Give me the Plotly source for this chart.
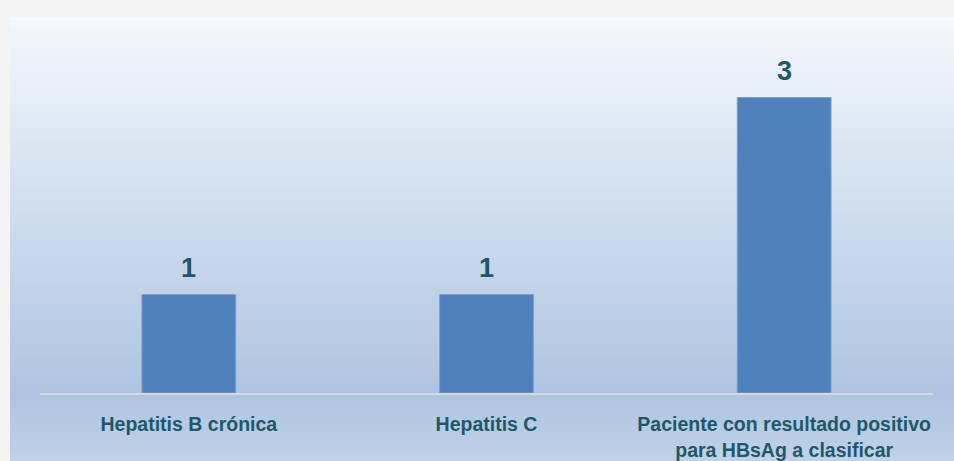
import plotly.graph_objects as go

categories = ["Hepatitis B crónica", "Hepatitis C", "Paciente con resultado positivo<br>para HBsAg a clasificar"]
values = [1, 1, 3]

W, H = 954, 461
ml, mr, mt, mb = 40, 21, 30, 68
pw, ph = W - ml - mr, H - mt - mb
FONT = "Liberation Sans, Arial, sans-serif"
TXT = "#1e5869"

def px_to_paper_x(px):
    return (px - ml) / pw

def py_to_paper_y(py):
    return (H - mb - py) / ph

stops = [(17, (245, 248, 253)), (200, (210, 223, 239)), (395, (174, 196, 224)), (461, (193, 210, 232))]

def color_at(py):
    for (y0, c0), (y1, c1) in zip(stops[:-1], stops[1:]):
        if y0 <= py <= y1:
            t = (py - y0) / (y1 - y0)
            return "rgb(%d,%d,%d)" % tuple(round(a + (b - a) * t) for a, b in zip(c0, c1))
    return "rgb(%d,%d,%d)" % stops[-1][1]

shapes = []
step = 3
y = 17
while y < H:
    y2 = min(y + step, H)
    shapes.append(dict(type="rect", xref="paper", yref="paper",
                       x0=px_to_paper_x(10), x1=px_to_paper_x(W + 2),
                       y0=py_to_paper_y(y2 + 0.5), y1=py_to_paper_y(y),
                       fillcolor=color_at((y + y2) / 2), line=dict(width=0), layer="below"))
    y = y2

fig = go.Figure(go.Bar(
    x=categories, y=values,
    marker=dict(color="#4f81bd", line=dict(color="#7f9fcf", width=1)),
    cliponaxis=False, hoverinfo="x+y",
))

annotations = [dict(x=c, y=v, xref="x", yref="y", text="<b>%d</b>" % v, showarrow=False,
                    yanchor="bottom", yshift=10,
                    font=dict(family=FONT, size=27, color=TXT))
               for c, v in zip(categories, values)]

fig.update_layout(
    width=W, height=H,
    margin=dict(l=ml, r=mr, t=mt, b=mb, autoexpand=False),
    paper_bgcolor="#f4f4f4", plot_bgcolor="rgba(0,0,0,0)",
    bargap=0.685, showlegend=False, shapes=shapes, annotations=annotations,
    font=dict(family=FONT, color=TXT),
)
fig.update_xaxes(showline=True, linecolor="#d9d9d9", linewidth=2, showgrid=False, automargin=False,
                 tickfont=dict(size=19.5, family=FONT, color=TXT, weight="bold"),
                 ticklabelstandoff=13)
fig.update_yaxes(visible=False, automargin=False, range=[0, ph / 98.5])

fig.write_html("out.html", config={"displayModeBar": False},
               post_script="document.body.style.margin='0';")
